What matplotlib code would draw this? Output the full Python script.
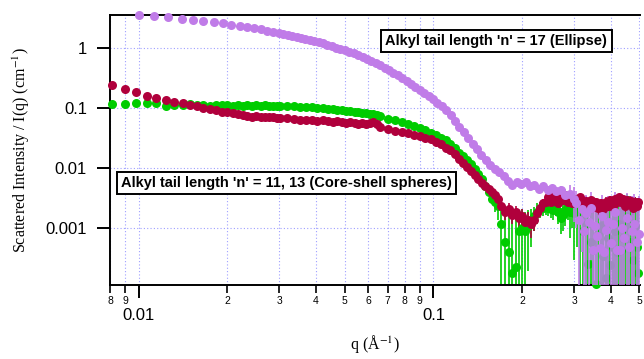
import numpy as np
import matplotlib
matplotlib.use('Agg')
import matplotlib.pyplot as plt
from matplotlib.ticker import FixedLocator, FixedFormatter, NullLocator

plt.rcParams['font.family'] = 'Liberation Sans'
plt.rcParams['mathtext.fontset'] = 'stix'

# --- data ---
# core-shell spheres (n = 11, 13), shared q grid
q_sph_low = [0.0081, 0.0090, 0.0098, 0.0107, 0.0115, 0.0124, 0.0132, 0.0141, 0.0149, 0.0158,
             0.0166, 0.0175, 0.0183, 0.0192, 0.0200, 0.0209, 0.0217, 0.0226, 0.0234, 0.0243,
             0.0251, 0.0260, 0.0268, 0.0277, 0.0285, 0.0294, 0.0302, 0.0319, 0.0336, 0.0353,
             0.0370, 0.0387, 0.0404, 0.0421, 0.0438, 0.0455, 0.0472, 0.0489, 0.0506, 0.0523,
             0.0540, 0.0557, 0.0574, 0.0591, 0.0608, 0.0625, 0.0642]
q_sph_high = [0.066, 0.070, 0.074, 0.078, 0.082, 0.086, 0.090, 0.094, 0.098, 0.102,
              0.106, 0.110, 0.114, 0.118, 0.122, 0.126, 0.130, 0.134, 0.138, 0.142,
              0.146, 0.150, 0.154, 0.158, 0.162, 0.166, 0.170, 0.175, 0.180, 0.185,
              0.190, 0.195, 0.200, 0.205, 0.210, 0.215, 0.220, 0.225, 0.230, 0.235,
              0.240, 0.245, 0.250, 0.255, 0.260, 0.265, 0.270, 0.275, 0.280, 0.285,
              0.290, 0.295, 0.300, 0.307, 0.314, 0.321, 0.328, 0.335, 0.342, 0.349,
              0.356, 0.363, 0.370, 0.377, 0.384, 0.391, 0.398, 0.405, 0.412, 0.419,
              0.426, 0.433, 0.440, 0.447, 0.454, 0.461, 0.468, 0.475, 0.482, 0.489,
              0.496]

green_low = [0.115, 0.116, 0.120, 0.119, 0.121, 0.108, 0.114, 0.112, 0.115, 0.110,
             0.113, 0.109, 0.112, 0.110, 0.113, 0.108, 0.111, 0.109, 0.112, 0.107,
             0.110, 0.108, 0.111, 0.106, 0.109, 0.107, 0.109, 0.106, 0.108, 0.105,
             0.104, 0.102, 0.101, 0.099, 0.097, 0.095, 0.093, 0.092, 0.090, 0.088,
             0.087, 0.085, 0.083, 0.082, 0.080, 0.078, 0.076]
green_high = [0.075, 0.066, 0.062, 0.058, 0.054, 0.050, 0.046, 0.043, 0.039, 0.036,
              0.032, 0.029, 0.025, 0.022, 0.018, 0.016, 0.0135, 0.0118, 0.0098, 0.0081,
              0.0066, 0.0050, 0.0040, 0.0031, 0.0027, 0.0024, 0.0012, 0.0006, 0.0004, 0.00018,
              0.00023, 0.0009, 0.0010, 0.0009, 0.0011, 0.0013, 0.0016, 0.0019, 0.0021, 0.0022,
              0.0023, 0.0022, 0.0021, 0.0020, 0.0022, 0.0019, 0.0015, 0.0017, 0.0020, 0.0024,
              0.0019, 0.0023, 0.0018, 0.0020, 0.0015, 0.0009, 0.0012, 0.00026, 0.0006, 0.00044,
              0.00012, 0.0008, 0.0011, 0.00035, 0.00015, 0.0007, 0.00025, 0.0005, 0.0009, 0.0004,
              0.0012, 0.00044, 0.0007, 0.0010, 0.0016, 0.0013, 0.0006, 0.0003, 0.0011, 0.0005,
              0.00018]
green_err_high = [0, 0, 0, 0, 0, 0, 0, 0, 0, 0,
                  0, 0, 0, 0, 0, 0, 0, 0, 0, 0,
                  0.0003, 0.0004, 0.0005, 0.0006, 0.0008, 0.0010, 0.0012, 0.0012, 0.0012, 0.0012,
                  0.0012, 0.0011, 0.0011, 0.0010, 0.0009, 0.0008, 0.0007, 0.0007, 0.0006, 0.0006,
                  0.0006, 0.0006, 0.0006, 0.0006, 0.0006, 0.0007, 0.0007, 0.0008, 0.0009, 0.0010,
                  0.0012, 0.0013, 0.0015, 0.0015, 0.0016, 0.0016, 0.0016, 0.0017, 0.0017, 0.0017,
                  0.0018, 0.0018, 0.0018, 0.0018, 0.0019, 0.0019, 0.0019, 0.0019, 0.0020, 0.0020,
                  0.0020, 0.0020, 0.0021, 0.0021, 0.0021, 0.0021, 0.0022, 0.0022, 0.0022, 0.0022,
                  0.0023]

crimson_low = [0.240, 0.204, 0.182, 0.158, 0.149, 0.136, 0.126, 0.120, 0.112, 0.106,
               0.099, 0.095, 0.091, 0.087, 0.085, 0.082, 0.078, 0.076, 0.074, 0.072,
               0.073, 0.071, 0.072, 0.070, 0.072, 0.069, 0.068, 0.067, 0.065, 0.064,
               0.063, 0.062, 0.061, 0.062, 0.060, 0.059, 0.060, 0.058, 0.057, 0.058,
               0.056, 0.055, 0.056, 0.055, 0.057, 0.058, 0.054]
crimson_high = [0.048, 0.045, 0.042, 0.040, 0.038, 0.036, 0.034, 0.032, 0.030, 0.027,
                0.025, 0.022, 0.020, 0.017, 0.014, 0.0122, 0.0104, 0.0091, 0.0078, 0.0065,
                0.0057, 0.0050, 0.0045, 0.0040, 0.0036, 0.0031, 0.0024, 0.0019, 0.0021, 0.0017,
                0.0019, 0.0015, 0.0016, 0.0013, 0.0014, 0.0012, 0.0014, 0.0018, 0.0022, 0.0026,
                0.0028, 0.0033, 0.0027, 0.0034, 0.0029, 0.0026, 0.0035, 0.0030, 0.0036, 0.0027,
                0.0033, 0.0026, 0.0031, 0.0027, 0.0033, 0.0024, 0.0029, 0.0025, 0.0030, 0.0023,
                0.0027, 0.0022, 0.0026, 0.0021, 0.0028, 0.0024, 0.0030, 0.0023, 0.0031, 0.0027,
                0.0033, 0.0028, 0.0031, 0.0024, 0.0030, 0.0026, 0.0029, 0.0022, 0.0028, 0.0024,
                0.0027]
crimson_err_high = [0, 0, 0, 0, 0, 0, 0, 0, 0, 0,
                    0, 0, 0, 0, 0, 0, 0, 0, 0, 0,
                    0, 0, 0, 0, 0.0003, 0.0003, 0.0004, 0.0005, 0.0005, 0.0005,
                    0.0005, 0.0005, 0.0005, 0.0005, 0.0005, 0.0005, 0.0005, 0.0005, 0.0005, 0.0005,
                    0.0004, 0.0004, 0.0004, 0.0004, 0.0004, 0.0004, 0.0004, 0.0004, 0.0004, 0.0004,
                    0.0004, 0.0004, 0.0004, 0.0005, 0.0005, 0.0005, 0.0005, 0.0005, 0.0005, 0.0005,
                    0.0005, 0.0005, 0.0005, 0.0005, 0.0005, 0.0005, 0.0005, 0.0005, 0.0005, 0.0005,
                    0.0005, 0.0005, 0.0005, 0.0005, 0.0005, 0.0005, 0.0005, 0.0005, 0.0005, 0.0005,
                    0.0005]

# ellipse (n = 17)
q_ell = [0.0100, 0.0113, 0.0126, 0.0140, 0.0153, 0.0166, 0.0180, 0.0193, 0.0206, 0.0220,
         0.0233, 0.0246, 0.0260, 0.0273, 0.0286,
         0.0300, 0.0310, 0.0321, 0.0332, 0.0344, 0.0356, 0.0368, 0.0381, 0.0394, 0.0408,
         0.0422, 0.0437, 0.0452, 0.0468, 0.0484, 0.0501, 0.0519, 0.0537, 0.0556, 0.0575,
         0.0595, 0.0616, 0.0638, 0.0660, 0.0683, 0.0707, 0.0732, 0.0757, 0.0784, 0.0811,
         0.0840, 0.0869, 0.0899, 0.0931, 0.0963, 0.0997, 0.1032, 0.1068, 0.1105, 0.1144,
         0.1184, 0.1226, 0.1268, 0.1313, 0.1359, 0.1406, 0.1455, 0.1506, 0.1559, 0.1614,
         0.1670, 0.1729, 0.1789, 0.1852, 0.1917, 0.1984, 0.2053, 0.2125, 0.2199, 0.2276,
         0.2356, 0.2439, 0.2524, 0.2612, 0.2704, 0.2798, 0.2896, 0.2997,
         0.305, 0.312, 0.318, 0.324, 0.330, 0.336, 0.342, 0.348, 0.354, 0.360,
         0.366, 0.372, 0.378, 0.385, 0.392, 0.399, 0.406, 0.413, 0.420, 0.428,
         0.436, 0.444, 0.452, 0.460, 0.470, 0.480, 0.490, 0.500]
ell_I = [3.48, 3.36, 3.19, 3.02, 2.88, 2.74, 2.64, 2.54, 2.41, 2.32,
         2.20, 2.10, 2.02, 1.91, 1.84,
         1.76, 1.70, 1.64, 1.58, 1.52, 1.47, 1.41, 1.36, 1.31, 1.24,
         1.18, 1.12, 1.07, 1.01, 0.958, 0.906, 0.855, 0.809, 0.753, 0.703,
         0.655, 0.610, 0.561, 0.511, 0.464, 0.422, 0.383, 0.349, 0.314, 0.282,
         0.251, 0.225, 0.202, 0.180, 0.160, 0.141, 0.123, 0.107, 0.0935, 0.0759,
         0.0608, 0.0486, 0.0393, 0.0314, 0.0254, 0.0205, 0.0167, 0.0139, 0.0115, 0.0097,
         0.0085, 0.0074, 0.0062, 0.0053, 0.0059, 0.0055, 0.0060, 0.0051, 0.0053, 0.0046,
         0.0050, 0.0044, 0.0047, 0.0042, 0.0043, 0.0036, 0.0038, 0.0031,
         0.0026, 0.0014, 0.0021, 0.0009, 0.0018, 0.0013, 0.0022, 0.00044, 0.0011, 0.00075,
         0.00048, 0.0016, 0.0004, 0.00094, 0.0013, 0.00058, 0.0012, 0.0019, 0.00044, 0.00044,
         0.0010, 0.0007, 0.0015, 0.0005, 0.0009, 0.0012, 0.0006, 0.0008]
# error bars only matter for the last 32 points
ell_err_tail = [0.0008, 0.0010, 0.0015, 0.0018,
                0.0016, 0.0017, 0.0017, 0.0018, 0.0018, 0.0018, 0.0019, 0.0019, 0.0019, 0.0020,
                0.0020, 0.0020, 0.0021, 0.0021, 0.0021, 0.0022, 0.0022, 0.0022, 0.0023, 0.0023,
                0.0023, 0.0024, 0.0024, 0.0024, 0.0025, 0.0025, 0.0026, 0.0026]

x_major_ticks = [0.01, 0.1]
x_major_labels = ['0.01', '0.1']
x_minor_ticks = [0.008, 0.009, 0.02, 0.03, 0.04, 0.05, 0.06, 0.07, 0.08, 0.09,
                 0.2, 0.3, 0.4, 0.5]
x_minor_labels = ['8', '9', '2', '3', '4', '5', '6', '7', '8', '9', '2', '3', '4', '5']
y_ticks = [0.001, 0.01, 0.1, 1]
y_labels = ['0.001', '0.01', '0.1', '1']

label_ell = "Alkyl tail length 'n' = 17 (Ellipse)"
label_sph = "Alkyl tail length 'n' = 11, 13 (Core-shell spheres)"

c_green = '#00cc00'
c_crimson = '#b0003c'
c_purple = '#c07ce8'

q_sph = np.array(q_sph_low + q_sph_high)
green_I = np.array(green_low + green_high)
crimson_I = np.array(crimson_low + crimson_high)
green_err = np.concatenate([np.zeros(len(q_sph_low)), green_err_high])
crimson_err = np.concatenate([np.zeros(len(q_sph_low)), crimson_err_high])
ell_err = np.concatenate([np.zeros(len(q_ell) - len(ell_err_tail)), ell_err_tail])
q_ell = np.array(q_ell)
ell_I = np.array(ell_I)

fig = plt.figure(figsize=(6.44, 3.59), dpi=100)
ax = fig.add_axes([110 / 644, 74 / 359, 530 / 644, 270 / 359])
ax.set_xscale('log')
ax.set_yscale('log')

# draw order: green bars, crimson bars, green dots, purple bars, crimson dots, purple dots
eb = dict(fmt='none', elinewidth=1.2, capsize=0)
mk = dict(ms=6.5, mew=0, clip_on=False)
ax.errorbar(q_sph, green_I, yerr=green_err, ecolor=c_green, zorder=2, **eb)
ax.errorbar(q_sph, crimson_I, yerr=crimson_err, ecolor=c_crimson, zorder=2.1, **eb)
ax.plot(q_sph, green_I, 'o', color=c_green, zorder=3, **mk)
ax.errorbar(q_ell, ell_I, yerr=ell_err, ecolor=c_purple, zorder=3.5, **eb)
ax.plot(q_sph, crimson_I, 'o', color=c_crimson, zorder=4, **mk)
ax.plot(q_ell, ell_I, 'o', color=c_purple, zorder=5, **mk)

ax.set_xlim(0.008, 0.502)
ax.set_ylim(1.15e-4, 3.5)

ax.xaxis.set_major_locator(FixedLocator(x_major_ticks))
ax.xaxis.set_major_formatter(FixedFormatter(x_major_labels))
ax.xaxis.set_minor_locator(FixedLocator(x_minor_ticks))
ax.xaxis.set_minor_formatter(FixedFormatter(x_minor_labels))
ax.yaxis.set_major_locator(FixedLocator(y_ticks))
ax.yaxis.set_major_formatter(FixedFormatter(y_labels))
ax.yaxis.set_minor_locator(NullLocator())

ax.tick_params(axis='x', which='major', length=9.5, width=1.4, pad=7, labelsize=12)
ax.tick_params(axis='x', which='minor', length=5.5, width=1.2, pad=2.5, labelsize=7.5)
ax.tick_params(axis='y', which='major', length=9.5, width=1.4, pad=7, labelsize=12)

for s in ['left', 'bottom', 'top']:
    ax.spines[s].set_linewidth(1.4)
ax.spines['right'].set_visible(False)

ax.set_axisbelow(True)
grid_kw = dict(color='#9f9fff', linestyle=(0, (1, 2)), linewidth=0.8)
ax.grid(True, which='both', axis='x', **grid_kw)
ax.grid(True, which='major', axis='y', **grid_kw)

ax.set_ylabel('Scattered Intensity / I(q) (cm$^{-1}$)', family='Liberation Serif', fontsize=11.5)
ax.yaxis.set_label_coords(-0.147, 0.5)
ax.set_xlabel('q (Å$^{-1}$)', family='Liberation Serif', fontsize=11.5)
ax.xaxis.set_label_coords(0.5, -0.178)

box = dict(boxstyle='square,pad=0.3', fc='white', ec='black', lw=1.4)
ax.text(0.729, 0.904, label_ell, transform=ax.transAxes, ha='center', va='center',
        fontsize=10.5, fontweight='bold', bbox=box, zorder=10)
ax.text(0.333, 0.378, label_sph, transform=ax.transAxes, ha='center', va='center',
        fontsize=10.5, fontweight='bold', bbox=box, zorder=10)

fig.savefig('out.png', dpi=100)
